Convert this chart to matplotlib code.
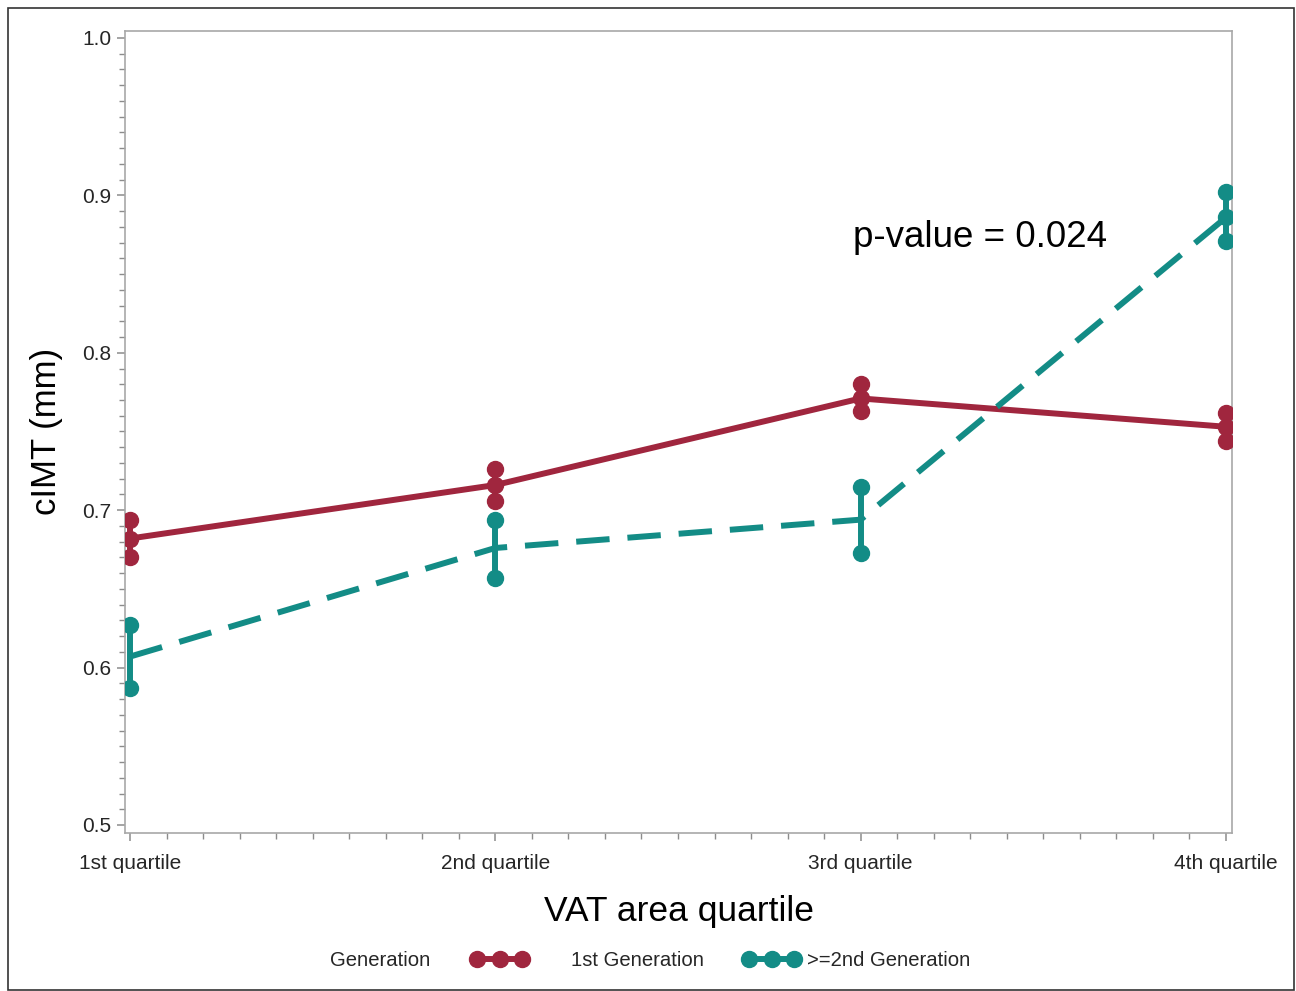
import matplotlib
matplotlib.use("Agg")
import matplotlib.pyplot as plt
from matplotlib.lines import Line2D
from matplotlib.patches import Rectangle
from matplotlib.ticker import MultipleLocator, FixedLocator

plt.rcParams['font.family'] = ['Liberation Sans', 'DejaVu Sans']

quartiles = ["1st quartile", "2nd quartile", "3rd quartile", "4th quartile"]
xpos = [1, 2, 3, 4]

gen1_mean = [0.682, 0.716, 0.771, 0.753]
gen1_low = [0.670, 0.706, 0.763, 0.744]
gen1_high = [0.694, 0.726, 0.780, 0.762]

gen2_mean = [0.607, 0.676, 0.694, 0.886]
gen2_low = [0.587, 0.657, 0.673, 0.871]
gen2_high = [0.627, 0.694, 0.715, 0.902]

red = "#A0263E"
teal = "#138C86"
spine_col = "#A8A8A8"
tick_col = "#8C8C8C"
text_col = "#262626"

fig = plt.figure(figsize=(12.96, 9.91), dpi=100)
ax = fig.add_axes([125/1296, 1-833/991, (1232-125)/1296, (833-31)/991])

lw = 4.3
ms = 11.5

# error bars and circle caps
for m, lo, hi, col in [(gen1_mean, gen1_low, gen1_high, red), (gen2_mean, gen2_low, gen2_high, teal)]:
    ax.vlines(xpos, lo, hi, color=col, lw=lw, zorder=3)
    ax.plot(xpos, lo, 'o', color=col, ms=ms, mec=col, zorder=4, ls='none')
    ax.plot(xpos, hi, 'o', color=col, ms=ms, mec=col, zorder=4, ls='none')

ax.plot(xpos, gen1_mean, color=red, lw=lw, solid_capstyle='butt', zorder=3,
        marker='o', ms=ms, mec=red)
ax.plot(xpos, gen2_mean, color=teal, lw=lw, dashes=(5.6, 3.0), zorder=3,
        marker='o', ms=ms, mec=teal, markevery=[3])

ax.set_xlim(1 - 5/365.3, 4 + 6/365.3)
ax.set_ylim(0.5 - 8/1574, 1.0 + 7/1574)

ax.xaxis.set_major_locator(FixedLocator(xpos))
ax.xaxis.set_minor_locator(MultipleLocator(0.1))
ax.set_xticks(xpos)
ax.set_xticklabels(quartiles)
ax.yaxis.set_major_locator(MultipleLocator(0.1))
ax.yaxis.set_minor_locator(MultipleLocator(0.01))
ax.set_yticks([0.5, 0.6, 0.7, 0.8, 0.9, 1.0])
ax.set_yticklabels(["0.5", "0.6", "0.7", "0.8", "0.9", "1.0"])

for s in ax.spines.values():
    s.set_color(spine_col)
    s.set_linewidth(1.2)

ax.tick_params(axis='both', which='major', direction='out', length=6, width=1.1,
               color=tick_col, labelcolor=text_col, labelsize=15)
ax.tick_params(axis='both', which='minor', direction='out', length=4, width=1.0,
               color=tick_col)
ax.tick_params(axis='x', which='major', pad=9)
ax.tick_params(axis='y', which='major', pad=4)

ax.set_xlabel("VAT area quartile", fontsize=25.5, color='black')
ax.xaxis.set_label_coords(0.5, -0.098)
ax.xaxis.label.set_va('center')
ax.set_ylabel("cIMT (mm)", fontsize=25, color='black')
ax.yaxis.set_label_coords(-0.071, 0.501)
ax.yaxis.label.set_va('center')

ax.text(2.979, 0.873, "p-value = 0.024", fontsize=26.5, ha='left', va='center', color='black')

# legend
fig.text(330/1296, 1-961/991, "Generation", fontsize=14.6, color=text_col, ha='left', va='center')
h1 = Line2D([0], [0], color=red, lw=lw, marker='o', ms=ms)
h2 = Line2D([0], [0], color=teal, lw=lw, marker='o', ms=ms)
fig.legend([h1], ["1st Generation"], loc='center left', bbox_to_anchor=(453/1296, 1-961/991),
           frameon=False, numpoints=3, handlelength=2.8, handletextpad=2.1, fontsize=14.6,
           labelcolor=text_col)
fig.legend([h2], [">=2nd Generation"], loc='center left', bbox_to_anchor=(725/1296, 1-961/991),
           frameon=False, numpoints=3, handlelength=2.8, handletextpad=0.35, fontsize=14.6,
           labelcolor=text_col)

# figure border
fig.patches.append(Rectangle((8/1296, 1/991), 1 - 10/1296, 1 - 9/991, transform=fig.transFigure,
                             fill=False, edgecolor='#333333', lw=1.2))

fig.savefig("out.png", dpi=100)
